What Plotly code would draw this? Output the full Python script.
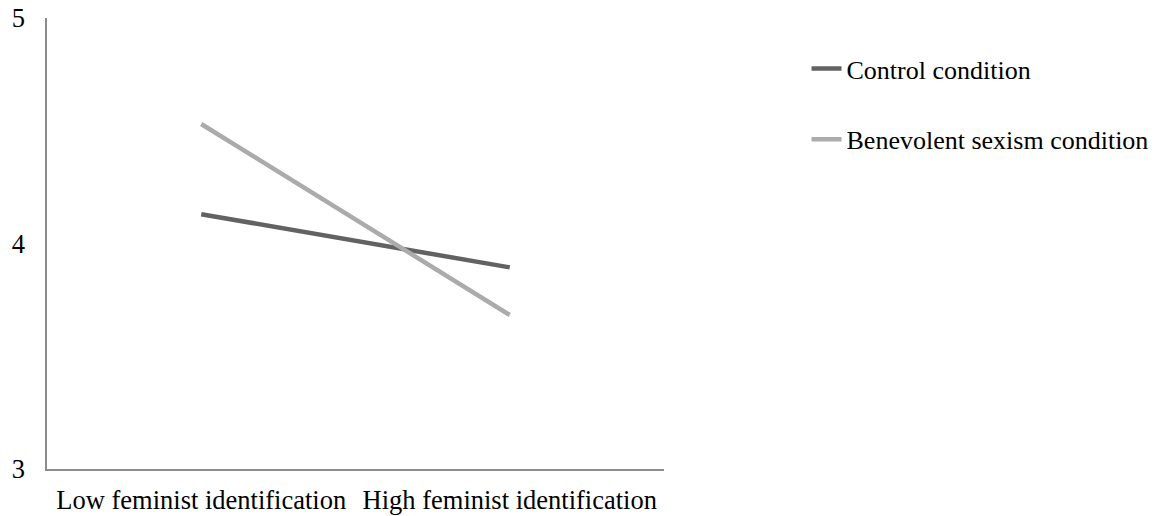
import plotly.graph_objects as go

categories = ["Low feminist identification", "High feminist identification"]
control = [4.13, 3.894]
benevolent = [4.53, 3.683]
series_names = ["Control condition", "Benevolent sexism condition"]
y_ticks = [3, 4, 5]

FONT = "Liberation Serif"
FS = 26.5

fig = go.Figure()
fig.add_trace(go.Scatter(x=categories, y=control, mode="lines", name=series_names[0],
                         legendgroup="a", line=dict(color="#626262", width=4.5)))
fig.add_trace(go.Scatter(x=categories, y=benevolent, mode="lines", name=series_names[1],
                         legendgroup="b", line=dict(color="#ababab", width=4.5)))

# the page body adds an 8px margin, so the figure is sized to fill the rest of the window
fig.update_layout(
    width=1154, height=508,
    margin=dict(l=39, r=498, t=10, b=47, autoexpand=False),
    paper_bgcolor="white", plot_bgcolor="white",
    font=dict(family=FONT, size=FS, color="black"),
    legend=dict(x=1.231, xanchor="left", y=0.94, yanchor="top",
                tracegroupgap=34, font=dict(family=FONT, size=26),
                bgcolor="rgba(0,0,0,0)"),
    showlegend=True,
)
fig.update_xaxes(type="category", range=[-0.5, 1.5], showgrid=False, zeroline=False,
                 showline=True, linecolor="#8c8c8c", linewidth=1.5,
                 ticks="", ticklabelstandoff=6, automargin=False,
                 tickfont=dict(family=FONT, size=FS, color="black"))
fig.update_yaxes(range=[3, 5], tickvals=y_ticks, showgrid=False, zeroline=False,
                 showline=True, linecolor="#8c8c8c", linewidth=1.5,
                 ticks="", ticklabelstandoff=15, automargin=False,
                 ticklabeloverflow="allow",
                 tickfont=dict(family=FONT, size=FS, color="black"))

fig.write_html("out.html")
